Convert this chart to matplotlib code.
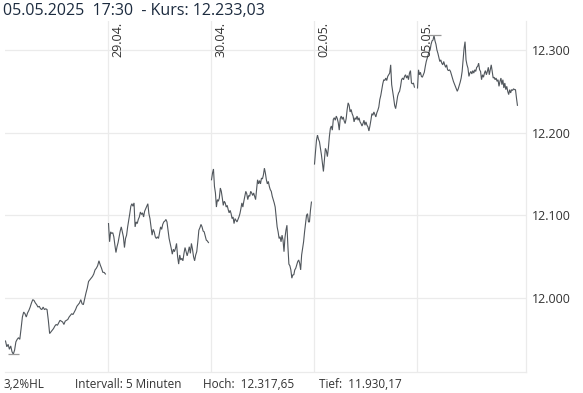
import numpy as np
import matplotlib
matplotlib.use("Agg")
import matplotlib.pyplot as plt

plt.rcParams['font.family'] = ['Open Sans', 'DejaVu Sans']

# 5-minute closes per trading day
day_labels = ["28.04.", "29.04.", "30.04.", "02.05.", "05.05."]

day1 = [11948, 11941, 11944, 11938, 11942, 11935, 11932, 11937, 11947, 11950,
        11952, 11950, 11963, 11977, 11983, 11981, 11977, 11982, 11985, 11989,
        11994, 11998, 11997, 11994, 11992, 11989, 11990, 11987, 11986, 11989,
        11986, 11987, 11986, 11973, 11957, 11959, 11961, 11963, 11966, 11968,
        11967, 11970, 11973, 11972, 11971, 11968, 11972, 11973, 11974, 11977,
        11979, 11981, 11980, 11983, 11986, 11990, 11992, 11994, 11998, 11993,
        11992, 11999, 12006, 12012, 12020, 12022, 12024, 12026, 12029, 12034,
        12036, 12039, 12045, 12040, 12036, 12031, 12031, 12029]

day2 = [12090, 12068, 12080, 12078, 12079, 12074, 12064, 12055, 12062, 12067,
        12074, 12081, 12086, 12080, 12074, 12061, 12072, 12076, 12086, 12094,
        12102, 12111, 12114, 12111, 12115, 12086, 12092, 12090, 12095, 12098,
        12104, 12101, 12103, 12098, 12105, 12108, 12111, 12114, 12102, 12096,
        12086, 12076, 12083, 12080, 12074, 12072, 12074, 12072, 12079, 12086,
        12083, 12089, 12092, 12093, 12095, 12092, 12082, 12072, 12066, 12060,
        12053, 12059, 12056, 12060, 12066, 12050, 12041, 12052, 12046, 12048,
        12045, 12054, 12061, 12056, 12051, 12056, 12062, 12054, 12066, 12059,
        12050, 12045, 12052, 12056, 12068, 12082, 12085, 12089, 12086, 12081,
        12080, 12075, 12070, 12069, 12067]

day3 = [12143, 12151, 12156, 12135, 12127, 12110, 12119, 12117, 12121, 12133,
        12129, 12121, 12112, 12117, 12115, 12110, 12112, 12107, 12103, 12106,
        12102, 12096, 12098, 12090, 12096, 12094, 12092, 12095, 12098, 12102,
        12108, 12115, 12110, 12117, 12123, 12129, 12126, 12119, 12124, 12123,
        12129, 12127, 12124, 12127, 12123, 12119, 12131, 12143, 12138, 12142,
        12138, 12145, 12144, 12149, 12157, 12151, 12143, 12138, 12141, 12135,
        12131, 12129, 12123, 12119, 12115, 12110, 12098, 12086, 12080, 12072,
        12074, 12068, 12076, 12070, 12056, 12073, 12082, 12088, 12062, 12041,
        12039, 12034, 12024, 12028, 12028, 12034, 12036, 12040, 12044, 12046,
        12042, 12034, 12052, 12060, 12068, 12080, 12090, 12100, 12102, 12092,
        12092, 12106, 12116]

day4 = [12162, 12177, 12191, 12197, 12192, 12189, 12181, 12173, 12163, 12153,
        12167, 12181, 12178, 12171, 12181, 12195, 12205, 12208, 12203, 12216,
        12218, 12215, 12220, 12217, 12212, 12203, 12217, 12220, 12216, 12219,
        12214, 12211, 12217, 12228, 12236, 12233, 12225, 12228, 12223, 12220,
        12213, 12218, 12216, 12220, 12215, 12218, 12213, 12211, 12208, 12211,
        12215, 12209, 12213, 12209, 12207, 12202, 12208, 12215, 12223, 12221,
        12225, 12222, 12219, 12224, 12227, 12231, 12240, 12245, 12252, 12259,
        12264, 12263, 12266, 12263, 12268, 12270, 12272, 12282, 12258, 12250,
        12242, 12233, 12229, 12236, 12244, 12248, 12250, 12256, 12264, 12266,
        12264, 12268, 12270, 12266, 12269, 12264, 12272, 12275, 12260, 12259,
        12260, 12255]

day5 = [12254, 12276, 12270, 12273, 12268, 12267, 12270, 12273, 12280, 12286,
        12290, 12294, 12298, 12300, 12307, 12311, 12312, 12317.65, 12311, 12307,
        12300, 12296, 12291, 12286, 12288, 12284, 12282, 12286, 12282, 12279,
        12282, 12276, 12275, 12276, 12274, 12270, 12266, 12262, 12259, 12256,
        12253, 12250, 12253, 12257, 12261, 12266, 12274, 12288, 12302, 12310,
        12288, 12282, 12278, 12268, 12272, 12274, 12271, 12275, 12272, 12276,
        12274, 12279, 12280, 12284, 12276, 12274, 12264, 12270, 12267, 12272,
        12275, 12270, 12274, 12279, 12270, 12276, 12282, 12274, 12266, 12267,
        12264, 12266, 12262, 12264, 12256, 12262, 12266, 12258, 12264, 12254,
        12260, 12252, 12256, 12250, 12246, 12252, 12248, 12252, 12251, 12253,
        12252, 12252, 12242, 12233.03]

days = [day1, day2, day3, day4, day5]
y_ticks = [12000, 12100, 12200, 12300]
y_tick_labels = ["12.000", "12.100", "12.200", "12.300"]

title = "05.05.2025  17:30  - Kurs: 12.233,03"
footer = [("3,2%HL", 4), ("Intervall: 5 Minuten", 75), ("Hoch:  12.317,65", 203), ("Tief:  11.930,17", 319)]

fig = plt.figure(figsize=(5.83, 3.93), dpi=100)
ax = fig.add_axes([5 / 583, 1 - 372 / 393, 521 / 583, 351 / 393])

line_col = "#50565c"
grid_col = "#ebebeb"

all_x = []
all_y = []
for i, vals in enumerate(days):
    xs = np.linspace(i + 0.005, i + 0.975, len(vals))
    ax.plot(xs, vals, color=line_col, lw=0.8, solid_joinstyle="miter")
    all_x.extend(xs)
    all_y.extend(vals)

all_x = np.array(all_x)
all_y = np.array(all_y)
hi = np.argmax(all_y)
lo = np.argmin(all_y)
ax.hlines(all_y[hi], all_x[hi] - 0.065, all_x[hi] + 0.065, color="#999999", lw=0.9)
ax.hlines(all_y[lo], all_x[lo] - 0.055, all_x[lo] + 0.055, color="#999999", lw=0.9)

ax.set_xlim(0, 521 / 103)
ax.set_ylim(11910.5, 12335)

for yv in y_ticks:
    ax.axhline(yv, color=grid_col, lw=0.9, zorder=0)
for i in range(1, len(days)):
    ax.axvline(i, color=grid_col, lw=0.9, zorder=0)
    ax.text(i + 0.035, 12334, day_labels[i], rotation=90, ha="left", va="top",
            fontsize=9, color="#333333")

for s in ["left", "top"]:
    ax.spines[s].set_visible(False)
for s in ["right", "bottom"]:
    ax.spines[s].set_color(grid_col)
    ax.spines[s].set_linewidth(0.9)

ax.set_xticks([])
ax.yaxis.tick_right()
ax.set_yticks(y_ticks)
ax.set_yticklabels(y_tick_labels, fontsize=9, color="#333333")
ax.tick_params(axis="y", length=0, pad=4)

fig.text(3 / 583, 1 - 11 / 393, title, fontsize=11.5, color="#1c2b3f", va="center", ha="left")
for txt, xp in footer:
    fig.text(xp / 583, 1 - 384 / 393, txt, fontsize=8.5, color="#333333", va="center", ha="left")

fig.savefig("out.png", dpi=100)
